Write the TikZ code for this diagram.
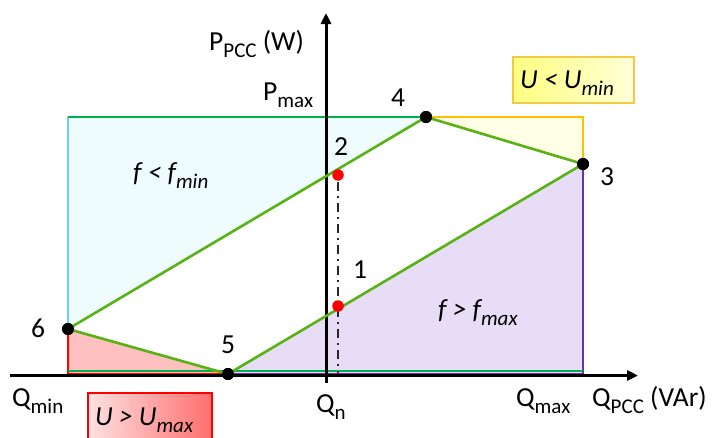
\documentclass[tikz,border=0pt]{standalone}
\usepackage{fontspec}
\setmainfont{Carlito}
\usetikzlibrary{arrows.meta}
\definecolor{grn}{RGB}{88,178,20}
\definecolor{rectgrn}{RGB}{0,176,80}
\definecolor{cyanfill}{RGB}{238,252,254}
\definecolor{cyanline}{RGB}{110,205,240}
\definecolor{yelfill}{RGB}{255,255,230}
\definecolor{yelline}{RGB}{255,192,0}
\definecolor{purfill}{RGB}{232,221,247}
\definecolor{purline}{RGB}{112,48,160}
\definecolor{redfill}{RGB}{255,192,192}
\definecolor{boxyelA}{RGB}{255,255,128}
\definecolor{boxyelB}{RGB}{255,255,215}
\definecolor{boxyelline}{RGB}{245,200,70}
\definecolor{boxredA}{RGB}{255,225,225}
\definecolor{boxredB}{RGB}{255,110,110}
\newcommand{\sbs}[1]{\raisebox{-7.5pt}{\fontsize{21}{21}\selectfont #1}}
\begin{document}
\begin{tikzpicture}[x=1pt,y=-1pt,
  lbl/.style={inner sep=0pt, font=\fontsize{27.5}{30}\selectfont, anchor=base west},
  ilbl/.style={lbl, font=\fontsize{27.5}{30}\selectfont\itshape},
  bdot/.style={circle, fill=black, inner sep=0pt, minimum size=12pt},
  rdot/.style={circle, fill=red, inner sep=0pt, minimum size=11.5pt},
  edgeline/.style={draw=grn, line width=2.6pt},
  axisline/.style={line width=3pt, -{Triangle[length=11pt,width=10pt]}}]
\useasboundingbox (0,0) rectangle (723,437);
% corners
\coordinate (TL) at (68,117);
\coordinate (TR) at (583,117);
\coordinate (BL) at (68,374);
\coordinate (BR) at (583,374);
\coordinate (c4) at (426,117);
\coordinate (c3) at (583,164);
\coordinate (c6) at (68,329);
\coordinate (c5) at (228,374);
% regions
\fill[cyanfill] (TL) -- (c4) -- (c6) -- cycle;
\draw[cyanline, line width=1.5pt] (TL) -- (c6);
\draw[rectgrn, line width=1.5pt] (TL) -- (c4);
\fill[yelfill] (c4) -- (TR) -- (c3) -- cycle;
\draw[yelline, line width=1.3pt] (c4) -- (TR) -- (c3);
\fill[purfill] (c5) -- (c3) -- (BR) -- cycle;
\draw[purline, line width=1.3pt] (c3) -- (BR) -- (c5);
\fill[redfill] (c6) -- (c5) -- (BL) -- cycle;
\draw[red, line width=1.2pt] (c6) -- (BL) -- (c5);
\draw[rectgrn, line width=1.2pt] ([yshift=3pt]BL) -- ([yshift=3pt]BR);
% axes
\coordinate (xa0) at (10,375.5);
\coordinate (xa1) at (638,375.5);
\coordinate (ya0) at (326,383);
\coordinate (ya1) at (326,13);
\draw[axisline] (xa0) -- (xa1);
\draw[axisline] (ya0) -- (ya1);
% parallelogram
\node[bdot] (p4) at (c4) {};
\node[bdot] (p3) at (c3) {};
\node[bdot] (p6) at (c6) {};
\node[bdot] (p5) at (c5) {};
\draw[edgeline] (p6.center) -- (p4.center) -- (p3.center) -- (p5.center) -- cycle;
\node[bdot] at (c4) {};
\node[bdot] at (c3) {};
\node[bdot] at (c6) {};
\node[bdot] at (c5) {};
% red points and dash-dot
\coordinate (foot) at (338,373);
\draw[black!85, line width=2pt, dash pattern=on 9pt off 5pt on 2pt off 5pt] (338,182) -- (foot);
\node[rdot] (r2) at (338,175) {};
\node[rdot] (r1) at (338,306) {};
% labels
\node[lbl] (lP) at (209,50) {P\sbs{PCC} (W)};
\node[lbl] (lPmax) at (263,100) {P\sbs{max}};
\node[lbl] (l2) at (334,155) {2};
\node[lbl] (l4) at (391,106) {4};
\node[lbl] (l3) at (600,185) {3};
\node[lbl] (l1) at (353,278) {1};
\node[lbl] (l5) at (221,353) {5};
\node[lbl] (l6) at (31,337) {6};
\node[lbl] (lQmin) at (12,406) {Q\sbs{min}};
\node[lbl] (lQn) at (316,412) {Q\sbs{n}};
\node[lbl] (lQmax) at (516,406) {Q\sbs{max}};
\node[lbl] (lQ) at (592,406) {Q\sbs{PCC} (VAr)};
\node[ilbl] (lfmin) at (133,181) {f < f\sbs{min}};
\node[ilbl] (lfmax) at (438,318) {f > f\sbs{max}};
% boxes
\shade[left color=boxyelA, right color=boxyelB] (513,57) rectangle (634,103);
\draw[boxyelline, line width=1.2pt] (513,57) rectangle (634,103);
\node[ilbl] (lUmin) at (520,88) {U < U\sbs{min}};
\shade[left color=boxredA, right color=boxredB] (88,393) rectangle (212,445);
\draw[red, line width=1.2pt] (88,393) rectangle (212,445);
\node[ilbl] (lUmax) at (95,425) {U > U\sbs{max}};
\end{tikzpicture}
\end{document}
